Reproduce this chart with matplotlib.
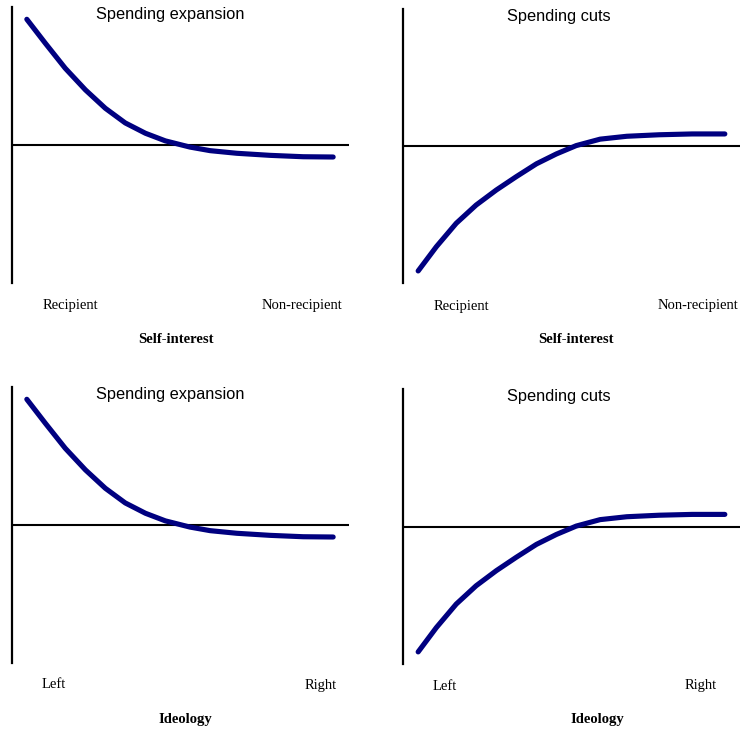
import matplotlib
matplotlib.use("Agg")
import matplotlib.pyplot as plt

W, H = 740, 731

# Curve readings: x as fraction of panel width, y relative to zero line (panel half-height = 1)
expansion_x = [0.044, 0.099, 0.158, 0.218, 0.277, 0.336, 0.396, 0.455, 0.528, 0.588,
               0.667, 0.766, 0.864, 0.953]
expansion_y = [0.911, 0.737, 0.556, 0.399, 0.266, 0.160, 0.085, 0.030, -0.015, -0.041,
               -0.060, -0.075, -0.085, -0.087]
cuts_x = [0.045, 0.099, 0.158, 0.217, 0.277, 0.336, 0.396, 0.455, 0.514, 0.585,
          0.664, 0.760, 0.858, 0.955]
cuts_y = [-0.912, -0.735, -0.564, -0.431, -0.321, -0.224, -0.130, -0.058, 0.003, 0.050,
          0.071, 0.082, 0.088, 0.088]

titles = ["Spending expansion", "Spending cuts", "Spending expansion", "Spending cuts"]
left_labels = ["Recipient", "Recipient", "Left", "Left"]
right_labels = ["Non-recipient", "Non-recipient", "Right", "Right"]
x_titles = ["Self-interest", "Self-interest", "Ideology", "Ideology"]

curve_color = "#000080"

fig = plt.figure(figsize=(W / 100, H / 100), dpi=100)

# panel boxes in pixels: (left, top, right, bottom)
boxes = [(12, 7, 349, 283), (403, 9, 740, 283), (12, 387, 349, 663), (403, 389, 740, 664)]
title_pos = [(170, 15), (559, 16), (170, 395), (559, 396)]
left_pos = [(70, 305), (461, 306), (54, 685), (445, 687)]
right_pos = [(302, 305), (698, 305), (321, 685), (701, 685)]
xt_pos = [(175.5, 340), (576, 340), (185, 719), (597, 719)]

def fx(px):
    return px / W

def fy(py):
    return 1 - py / H

for i, (l, t, r, b) in enumerate(boxes):
    ax = fig.add_axes([fx(l), fy(b), (r - l) / W, (b - t) / H])
    ax.set_xlim(0, 1)
    ax.set_ylim(-1, 1)
    for s in ["top", "right", "bottom"]:
        ax.spines[s].set_visible(False)
    ax.spines["left"].set_linewidth(1.6)
    ax.spines["left"].set_color("black")
    ax.set_xticks([])
    ax.set_yticks([])
    ax.patch.set_alpha(0)
    ax.axhline(0, color="black", lw=1.5)
    if i % 2 == 0:
        xs, ys = expansion_x, expansion_y
    else:
        xs, ys = cuts_x, cuts_y
    ax.plot(xs, ys, color=curve_color, lw=3.7, solid_capstyle="round",
            solid_joinstyle="round", clip_on=False)

    fig.text(fx(title_pos[i][0]), fy(title_pos[i][1]), titles[i], ha="center", va="center",
             fontsize=11.8, family="Liberation Sans")
    fig.text(fx(left_pos[i][0]), fy(left_pos[i][1]), left_labels[i], ha="center", va="center",
             fontsize=10.5, family="Liberation Serif")
    fig.text(fx(right_pos[i][0]), fy(right_pos[i][1]), right_labels[i], ha="center", va="center",
             fontsize=10.5, family="Liberation Serif")
    fig.text(fx(xt_pos[i][0]), fy(xt_pos[i][1]), x_titles[i], ha="center", va="center",
             fontsize=10.5, family="Liberation Serif", fontweight="bold")

fig.savefig("out.png", dpi=100)
